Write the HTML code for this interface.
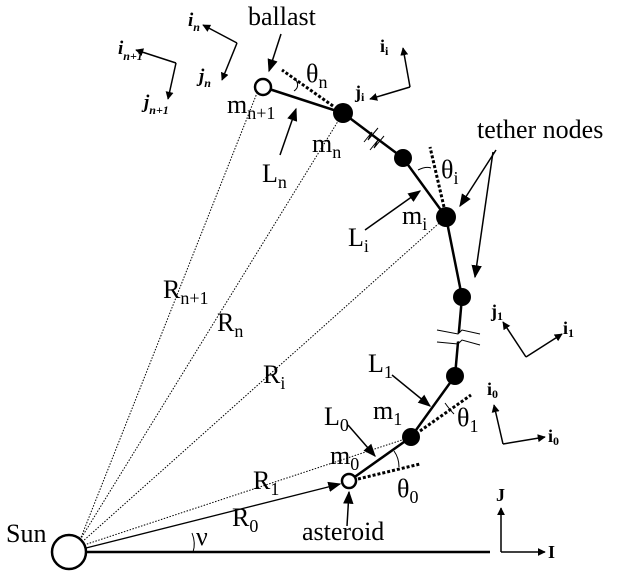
<!DOCTYPE html>
<html><head><style>
html,body{margin:0;padding:0;background:#fff;}
svg{display:block;}
svg text{font-family:"Liberation Serif","Times New Roman",Times,"DejaVu Serif",serif;fill:#000;}
</style></head><body>
<svg width="624" height="579" viewBox="0 0 624 579" xmlns="http://www.w3.org/2000/svg" font-family="Liberation Serif, Times New Roman, serif">
<defs>
<marker id="a" viewBox="0 0 10 10" refX="9" refY="5" markerWidth="8" markerHeight="8" orient="auto" markerUnits="userSpaceOnUse"><path d="M0,0 L10,5 L0,10 z" fill="#000"/></marker>
<marker id="b" viewBox="0 0 10 10" refX="9" refY="5" markerWidth="13" markerHeight="13" orient="auto" markerUnits="userSpaceOnUse"><path d="M0,1 L10,5 L0,9 z" fill="#000"/></marker>
</defs>
<g stroke="#000" stroke-width="1" stroke-dasharray="1.5,1.5" fill="none">
<line x1="80" y1="540" x2="257" y2="93"/>
<line x1="80" y1="540" x2="340" y2="118"/>
<line x1="82" y1="542" x2="446" y2="217"/>
<line x1="84" y1="545" x2="411" y2="437"/>
</g>
<line x1="86" y1="548" x2="340" y2="484" stroke="#000" stroke-width="1.3" marker-end="url(#b)"/>
<line x1="86" y1="552" x2="490" y2="552" stroke="#000" stroke-width="2.5"/>
<path d="M192,533 Q196,543 193,552" stroke="#000" fill="none" stroke-width="1"/>
<polyline points="349,481 411,437 455,376 462,297 446,217 403,158 343,113 263,87" fill="none" stroke="#000" stroke-width="2.5"/>
<g stroke="#000" stroke-width="1" fill="#fff">
<path d="M364,142 L372,132 L368,140 L378,128" fill="none"/>
<path d="M370,150 L378,140 L374,148 L384,136" fill="none"/>
<rect x="440" y="333" width="40" height="8" fill="#fff" stroke="none" transform="rotate(-10 460 337)"/>
<path d="M437,330 L458,334 L462,330 L480,334" fill="none"/>
<path d="M437,342 L458,344 L462,340 L480,345" fill="none"/>
</g>
<g stroke="#000" stroke-width="3" stroke-dasharray="3,2" fill="none">
<line x1="333" y1="106" x2="282" y2="70"/>
<line x1="444" y1="207" x2="430" y2="147"/>
<line x1="420" y1="431" x2="471" y2="395"/>
<line x1="358" y1="479" x2="420" y2="464"/>
</g>
<g stroke="#000" stroke-width="1" fill="none">
<path d="M294,91 Q300,87 296,80"/>
<path d="M418,170 Q426,166 431,168"/>
<path d="M445,403 Q450,410 454,414"/>
<path d="M394,451 Q399,458 399,467"/>
</g>
<g fill="#000">
<circle cx="343" cy="113" r="10"/>
<circle cx="403" cy="158" r="9"/>
<circle cx="446" cy="217" r="10"/>
<circle cx="462" cy="297" r="9"/>
<circle cx="455" cy="376" r="9"/>
<circle cx="411" cy="437" r="9"/>
</g>
<circle cx="263" cy="87" r="8" fill="#fff" stroke="#000" stroke-width="2.5"/>
<circle cx="349" cy="481" r="7" fill="#fff" stroke="#000" stroke-width="2.5"/>
<circle cx="69" cy="552" r="17" fill="#fff" stroke="#000" stroke-width="2.5"/>
<g stroke="#000" stroke-width="1.5" marker-end="url(#b)">
<line x1="281" y1="34" x2="269" y2="71"/>
<line x1="280" y1="155" x2="296" y2="109"/>
<line x1="365" y1="230" x2="420" y2="191"/>
<line x1="496" y1="150" x2="460" y2="206"/>
<line x1="493" y1="152" x2="475" y2="277"/>
<line x1="392" y1="375" x2="430" y2="406"/>
<line x1="348" y1="425" x2="375" y2="456"/>
<line x1="347" y1="526" x2="349" y2="492"/>
</g>
<g stroke="#000" stroke-width="1.5" fill="none" marker-end="url(#a)">
<polyline points="176,63 136,50"/><polyline points="176,63 168,99"/>
<polyline points="237,43 203,25"/><polyline points="237,43 222,80"/>
<polyline points="410,87 403,48"/><polyline points="410,87 370,99"/>
<polyline points="526,357 503,322"/><polyline points="526,357 562,334"/>
<polyline points="503,444 494,405"/><polyline points="503,444 545,437"/>
<polyline points="501,552 501,508"/><polyline points="501,552 545,552"/>
</g>
<g font-size="26">
<text x="248" y="25">ballast</text>
<text x="306" y="82">θ<tspan font-size="18" dy="6">n</tspan></text>
<text x="227" y="113">m<tspan font-size="18" dy="6">n+1</tspan></text>
<text x="312" y="152">m<tspan font-size="18" dy="6">n</tspan></text>
<text x="262" y="182">L<tspan font-size="18" dy="6">n</tspan></text>
<text x="477" y="138">tether nodes</text>
<text x="441" y="178">θ<tspan font-size="18" dy="6">i</tspan></text>
<text x="402" y="224">m<tspan font-size="18" dy="6">i</tspan></text>
<text x="348" y="246">L<tspan font-size="18" dy="6">i</tspan></text>
<text x="163" y="298">R<tspan font-size="18" dy="6">n+1</tspan></text>
<text x="217" y="331">R<tspan font-size="18" dy="6">n</tspan></text>
<text x="263" y="383">R<tspan font-size="18" dy="6">i</tspan></text>
<text x="368" y="372">L<tspan font-size="18" dy="6">1</tspan></text>
<text x="373" y="419">m<tspan font-size="18" dy="6">1</tspan></text>
<text x="457" y="426">θ<tspan font-size="18" dy="6">1</tspan></text>
<text x="324" y="425">L<tspan font-size="18" dy="6">0</tspan></text>
<text x="330" y="464">m<tspan font-size="18" dy="6">0</tspan></text>
<text x="253" y="489">R<tspan font-size="18" dy="6">1</tspan></text>
<text x="232" y="526">R<tspan font-size="18" dy="6">0</tspan></text>
<text x="397" y="497">θ<tspan font-size="18" dy="6">0</tspan></text>
<text x="196" y="545">ν</text>
<text x="6" y="542">Sun</text>
<text x="302" y="540">asteroid</text>
</g>
<g font-size="18" font-weight="bold">
<text x="496" y="501">J</text>
<text x="548" y="558">I</text>
<text x="380" y="52">i<tspan font-size="12" dy="3">i</tspan></text>
<text x="355" y="98">j<tspan font-size="12" dy="3">i</tspan></text>
<text x="563" y="334">i<tspan font-size="12" dy="3">1</tspan></text>
<text x="491" y="317">j<tspan font-size="12" dy="3">1</tspan></text>
<text x="487" y="395">i<tspan font-size="12" dy="3">0</tspan></text>
<text x="548" y="442">i<tspan font-size="12" dy="3">0</tspan></text>
</g>
<g font-size="19" font-weight="bold" font-style="italic">
<text x="188" y="26">i<tspan font-size="12" dy="5">n</tspan></text>
<text x="199" y="82">j<tspan font-size="12" dy="5">n</tspan></text>
<text x="118" y="54">i<tspan font-size="12" dy="6">n+1</tspan></text>
<text x="144" y="108">j<tspan font-size="12" dy="6">n+1</tspan></text>
</g>
</svg>
</body></html>
